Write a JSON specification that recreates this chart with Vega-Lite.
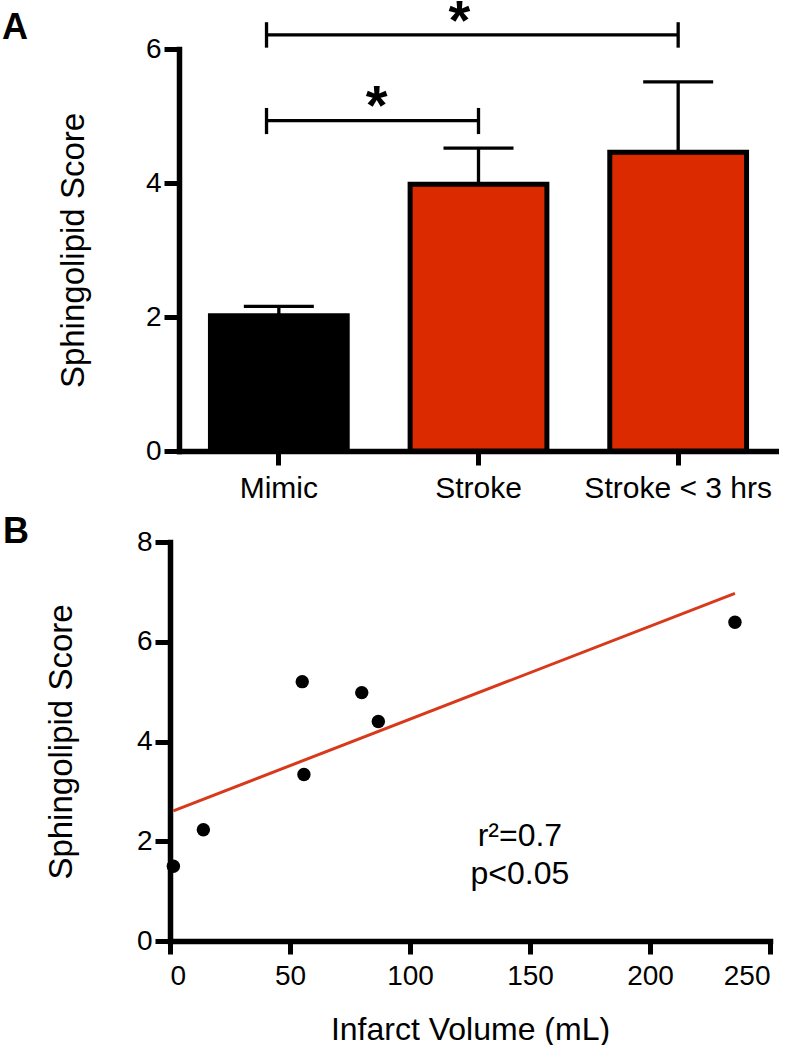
{
  "$schema": "https://vega.github.io/schema/vega-lite/v6.json",
  "padding": {"left": 2, "top": -7, "right": 0, "bottom": 0},
  "background": "white",
  "spacing": 11,
  "config": {
    "font": "Liberation Sans",
    "view": {"stroke": null},
    "axis": {"domainColor": "black", "tickColor": "black", "labelColor": "black", "titleColor": "black", "grid": false, "labelFont": "Liberation Sans", "titleFont": "Liberation Sans", "titleFontWeight": "normal", "domainWidth": 5.5, "tickWidth": 5, "domainCap": "square", "labelLimit": 0},
    "title": {"font": "Liberation Sans", "fontWeight": "bold", "fontSize": 36, "color": "black", "anchor": "start", "frame": "group"}
  },
  "datasets": {
    "bars": [
      {"group": "Mimic", "mean": 2.02, "upper": 2.16},
      {"group": "Stroke", "mean": 3.98, "upper": 4.52},
      {"group": "Stroke < 3 hrs", "mean": 4.46, "upper": 5.51}
    ],
    "brackets": [
      {"from": "Mimic", "to": "Stroke", "y": 4.93, "lo": 4.73, "hi": 5.12},
      {"from": "Mimic", "to": "Stroke < 3 hrs", "y": 6.21, "lo": 6.02, "hi": 6.40}
    ],
    "starUpper": [{"pos": "Stroke", "y": 6.15, "label": "*"}],
    "starLower": [{"pos": "Mimic", "y": 4.88, "label": "*"}],
    "line": [
      {"volume": 1.4, "score": 2.61},
      {"volume": 235.4, "score": 6.97}
    ],
    "points": [
      {"volume": 1.4, "score": 1.5},
      {"volume": 13.9, "score": 2.23},
      {"volume": 55.1, "score": 5.2},
      {"volume": 55.8, "score": 3.34},
      {"volume": 79.9, "score": 4.98},
      {"volume": 86.8, "score": 4.4},
      {"volume": 235.4, "score": 6.39}
    ],
    "stats": [
      {"volume": 145.8, "score": 1.9, "label": "r²=0.7"},
      {"volume": 145.8, "score": 1.14, "label": "p<0.05"}
    ]
  },
  "vconcat": [
    {
      "width": 599,
      "height": 402,
      "title": {"text": "A", "dx": -177, "dy": 57},
      "layer": [
        {
          "data": {"name": "bars"},
          "mark": {"type": "bar", "stroke": "black", "strokeWidth": 5},
          "encoding": {
            "x": {"field": "group", "type": "nominal", "title": null,
              "scale": {"domain": ["Mimic", "Stroke", "Stroke < 3 hrs"], "paddingInner": 0.315, "paddingOuter": 0.1575},
              "axis": {"labelAngle": 0, "labelFontSize": 30, "tickSize": 14, "labelPadding": 8}},
            "y": {"field": "mean", "type": "quantitative", "title": "Sphingolipid Score",
              "scale": {"domain": [0, 6], "nice": false},
              "axis": {"values": [0, 2, 4, 6], "format": "d", "labelFontSize": 28, "tickSize": 15, "labelPadding": 3, "titleFontSize": 33, "titlePadding": 55}},
            "color": {"field": "group", "type": "nominal", "legend": null,
              "scale": {"domain": ["Mimic", "Stroke", "Stroke < 3 hrs"], "range": ["#000000", "#DC2A00", "#DC2A00"]}}
          }
        },
        {
          "data": {"name": "bars"},
          "mark": {"type": "rule", "color": "black", "strokeWidth": 3.3},
          "encoding": {
            "x": {"field": "group", "type": "nominal", "title": null},
            "y": {"field": "mean", "type": "quantitative", "title": "Sphingolipid Score"},
            "y2": {"field": "upper"}
          }
        },
        {
          "data": {"name": "bars"},
          "mark": {"type": "tick", "color": "black", "thickness": 3.3, "size": 70, "opacity": 1},
          "encoding": {
            "x": {"field": "group", "type": "nominal", "title": null},
            "y": {"field": "upper", "type": "quantitative", "title": "Sphingolipid Score"}
          }
        },
        {
          "data": {"name": "brackets"},
          "mark": {"type": "rule", "color": "black", "strokeWidth": 3.3},
          "encoding": {
            "x": {"field": "from", "type": "nominal", "title": null, "bandPosition": 0.41},
            "x2": {"field": "to", "bandPosition": 0.5},
            "y": {"field": "y", "type": "quantitative", "title": "Sphingolipid Score"}
          }
        },
        {
          "data": {"name": "brackets"},
          "mark": {"type": "rule", "color": "black", "strokeWidth": 3.3},
          "encoding": {
            "x": {"field": "from", "type": "nominal", "title": null, "bandPosition": 0.41},
            "y": {"field": "lo", "type": "quantitative", "title": "Sphingolipid Score"},
            "y2": {"field": "hi"}
          }
        },
        {
          "data": {"name": "brackets"},
          "mark": {"type": "rule", "color": "black", "strokeWidth": 3.3},
          "encoding": {
            "x": {"field": "to", "type": "nominal", "title": null, "bandPosition": 0.5},
            "y": {"field": "lo", "type": "quantitative", "title": "Sphingolipid Score"},
            "y2": {"field": "hi"}
          }
        },
        {
          "data": {"name": "starUpper"},
          "mark": {"type": "text", "fontSize": 56, "fontWeight": "bold", "align": "center", "baseline": "alphabetic", "color": "black"},
          "encoding": {
            "x": {"field": "pos", "type": "nominal", "title": null, "bandPosition": 0.36},
            "y": {"field": "y", "type": "quantitative", "title": "Sphingolipid Score"},
            "text": {"field": "label"}
          }
        },
        {
          "data": {"name": "starLower"},
          "mark": {"type": "text", "fontSize": 56, "fontWeight": "bold", "align": "center", "baseline": "alphabetic", "color": "black"},
          "encoding": {
            "x": {"field": "pos", "type": "nominal", "title": null, "bandPosition": 1.215},
            "y": {"field": "y", "type": "quantitative", "title": "Sphingolipid Score"},
            "text": {"field": "label"}
          }
        }
      ]
    },
    {
      "width": 600,
      "height": 399,
      "title": {"text": "B", "dx": -176, "dy": 27},
      "layer": [
        {
          "data": {"name": "line"},
          "mark": {"type": "line", "color": "#D8391A", "strokeWidth": 3},
          "encoding": {
            "x": {"field": "volume", "type": "quantitative", "title": "Infarct Volume (mL)",
              "scale": {"domain": [0, 250], "nice": false, "range": [-9, 591]},
              "axis": {"values": [0, 50, 100, 150, 200, 250], "labelFontSize": 28, "tickSize": 13, "labelPadding": 8, "titleFontSize": 32, "titlePadding": 24}},
            "y": {"field": "score", "type": "quantitative", "title": "Sphingolipid Score",
              "scale": {"domain": [0, 8], "nice": false},
              "axis": {"values": [0, 2, 4, 6, 8], "offset": 9, "labelFontSize": 28, "tickSize": 15, "labelPadding": 3, "titleFontSize": 33, "titlePadding": 58}}
          }
        },
        {
          "data": {"name": "points"},
          "mark": {"type": "point", "filled": true, "color": "black", "size": 180, "opacity": 1},
          "encoding": {
            "x": {"field": "volume", "type": "quantitative", "title": "Infarct Volume (mL)"},
            "y": {"field": "score", "type": "quantitative", "title": "Sphingolipid Score"}
          }
        },
        {
          "data": {"name": "stats"},
          "mark": {"type": "text", "fontSize": 32, "align": "center", "baseline": "alphabetic", "color": "black"},
          "encoding": {
            "x": {"field": "volume", "type": "quantitative", "title": "Infarct Volume (mL)"},
            "y": {"field": "score", "type": "quantitative", "title": "Sphingolipid Score"},
            "text": {"field": "label"}
          }
        }
      ]
    }
  ]
}
